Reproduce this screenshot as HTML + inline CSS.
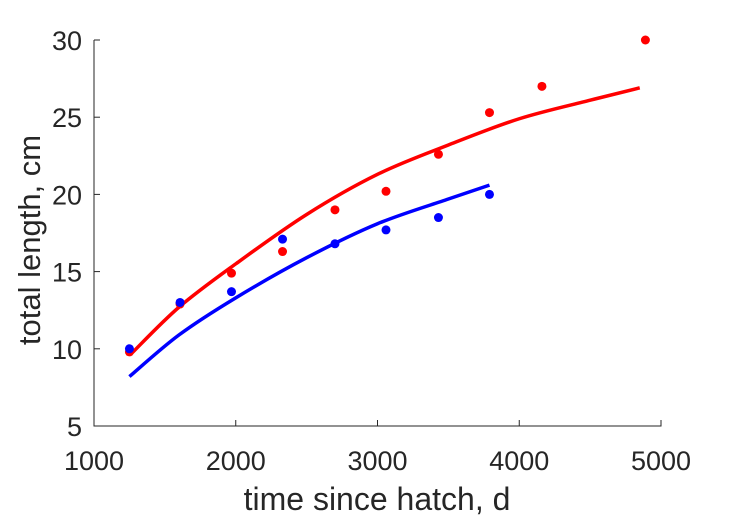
<!DOCTYPE html>
<html><head><meta charset="utf-8"><style>
body{margin:0;background:#fff;}
svg{display:block;font-family:"Liberation Sans",sans-serif;}
</style></head><body>
<svg id="chart" width="729" height="521" viewBox="0 0 729 521"></svg>
<script>
const redX=[1250,1607,1970,2330,2700,3060,3430,3790,4160,4890];
const redY=[9.8,12.9,14.9,16.3,19.0,20.2,22.6,25.3,27.0,30.0];
const blueX=[1250,1607,1970,2330,2700,3060,3430,3790];
const blueY=[10.0,13.0,13.7,17.1,16.8,17.7,18.5,20.0];
const redFitX=[1265,1600,2000,2500,3000,3500,4000,4500,4850];
const redFitY=[9.7,12.7,15.5,18.7,21.3,23.2,24.9,26.1,26.9];
const blueFitX=[1250,1600,2000,2500,3000,3500,3790];
const blueFitY=[8.2,10.9,13.3,15.9,18.1,19.7,20.6];
const xTicks=[1000,2000,3000,4000,5000];
const yTicks=[5,10,15,20,25,30];
const NS="http://www.w3.org/2000/svg";
const svg=document.getElementById('chart');
const L=94,R=661,T=40,B=426;
const sx=v=>L+(v-1000)/4000*(R-L);
const sy=v=>B-(v-5)/25*(B-T);
function mk(tag,attrs){const e=document.createElementNS(NS,tag);for(const k in attrs)e.setAttribute(k,attrs[k]);svg.appendChild(e);return e;}
const ax=mk('path',{d:`M${L},${T} L${L},${B} L${R},${B} L${R},${B-6}`,fill:'none',stroke:'#262626','stroke-width':1});


xTicks.forEach(t=>{
 const l=mk('line',{x1:sx(t),x2:sx(t),y1:B,y2:B-6,stroke:'#262626'});
 
 
 const tx=mk('text',{x:sx(t),y:B+44,'text-anchor':'middle','font-size':27,fill:'#262626'});
 tx.textContent=t;
 
 
});
yTicks.forEach(t=>{
 const l=mk('line',{x1:L,x2:L+6,y1:sy(t),y2:sy(t),stroke:'#262626'});
 
 
 const tx=mk('text',{x:L-12,y:sy(t)+10,'text-anchor':'end','font-size':27,fill:'#262626'});
 tx.textContent=t;
 
 
});
function line(xs,ys,c,name){
 const P=xs.map((x,i)=>[sx(x),sy(ys[i])]);
 let d=`M${P[0][0]},${P[0][1]}`;
 for(let i=0;i<P.length-1;i++){
  const p0=P[Math.max(i-1,0)],p1=P[i],p2=P[i+1],p3=P[Math.min(i+2,P.length-1)];
  const c1=[p1[0]+(p2[0]-p0[0])/6,p1[1]+(p2[1]-p0[1])/6];
  const c2=[p2[0]-(p3[0]-p1[0])/6,p2[1]-(p3[1]-p1[1])/6];
  d+=` C${c1[0]},${c1[1]} ${c2[0]},${c2[1]} ${p2[0]},${p2[1]}`;
 }
 const p=mk('path',{d:d,fill:'none',stroke:c,'stroke-width':3.5});
 
 
}
line(redFitX,redFitY,'#ff0000','red-fit-curve');
line(blueFitX,blueFitY,'#0000ff','blue-fit-curve');
function dots(xs,ys,c,name){
 xs.forEach((x,i)=>{
  const d=mk('circle',{cx:sx(x),cy:sy(ys[i]),r:4.5,fill:c});
  
  
 });
}
dots(redX,redY,'#ff0000','red-point');
dots(blueX,blueY,'#0000ff','blue-point');
const xl=mk('text',{x:377,y:510,'text-anchor':'middle','font-size':32,fill:'#262626'});
xl.textContent='time since hatch, d';


const yl=mk('text',{x:0,y:0,transform:`translate(40,240) rotate(-90)`,'text-anchor':'middle','font-size':31,fill:'#262626'});
yl.textContent='total length, cm';


</script>
</body></html>
